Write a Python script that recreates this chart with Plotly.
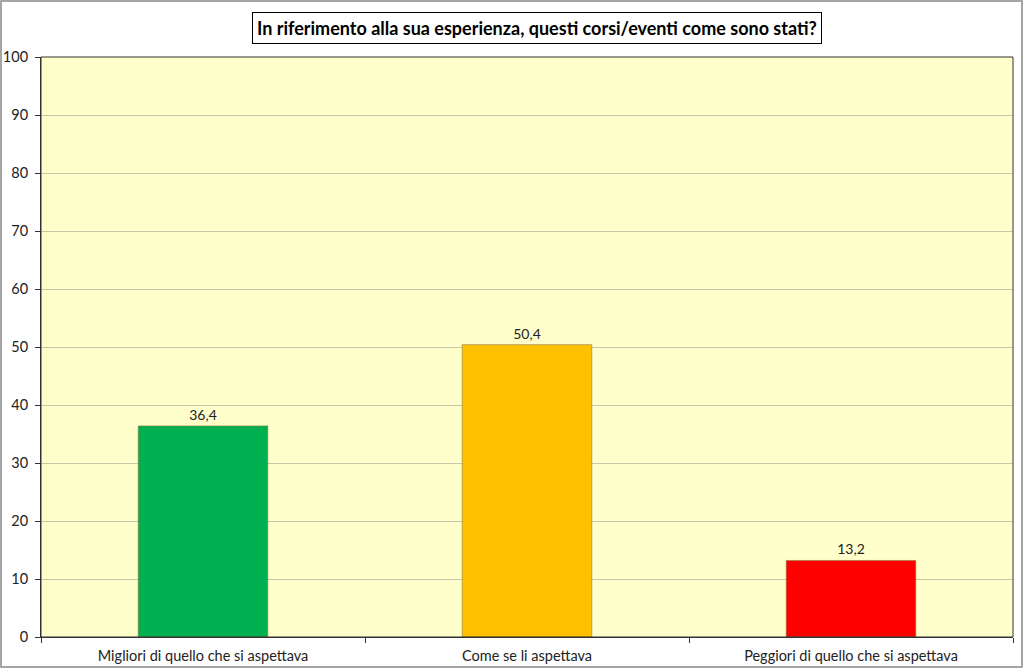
import plotly.graph_objects as go

categories = ["Migliori di quello che si aspettava", "Come se li aspettava", "Peggiori di quello che si aspettava"]
values = [36.4, 50.4, 13.2]
labels = ["36,4", "50,4", "13,2"]
colors = ["#00B050", "#FFC000", "#FF0000"]
title_text = "In riferimento alla sua esperienza, questi corsi/eventi come sono stati?"

W, H = 1024, 669
L, R, T, B = 41, 11, 57, 32
pw, ph = W - L - R, H - T - B
FONT = "Lato, Open Sans, sans-serif"

fig = go.Figure(go.Bar(
    x=categories, y=values, text=labels, textposition="outside",
    marker=dict(color=colors, line=dict(color="#8a7a3a", width=0.6)),
    textfont=dict(family=FONT, size=14, color="#222"),
    cliponaxis=False,
))

def px_x(p):
    return (p - L) / pw

def px_y(p):
    return 1 - (p - T) / ph

fig.update_layout(
    width=W, height=H,
    margin=dict(l=L, r=R, t=T, b=B, pad=0, autoexpand=False),
    paper_bgcolor="white",
    plot_bgcolor="#FFFFCC",
    bargap=0.6,
    showlegend=False,
    font=dict(family=FONT, size=14, color="#222"),
    xaxis=dict(
        showline=True, linecolor="#333", linewidth=1, mirror=False, automargin=False,
        ticks="outside", tickson="boundaries", ticklen=5, tickcolor="#333",
        showgrid=False, tickfont=dict(size=14.5), ticklabelstandoff=6,
    ),
    yaxis=dict(
        range=[0, 100], dtick=10, showline=True, linecolor="#333", linewidth=1, automargin=False,
        ticks="outside", ticklen=5, tickcolor="#333",
        gridcolor="#C8C8A8", gridwidth=1, zeroline=False,
        tickfont=dict(size=14.5), ticklabelstandoff=4,
    ),
    shapes=[
        dict(type="rect", xref="paper", yref="paper", x0=0, x1=1, y0=0, y1=1,
             line=dict(color="#333", width=1), fillcolor="rgba(0,0,0,0)", layer="above"),
        dict(type="rect", xref="paper", yref="paper",
             x0=px_x(1), x1=px_x(1022), y0=px_y(1), y1=px_y(667),
             line=dict(color="#888", width=1.5), fillcolor="rgba(0,0,0,0)"),
    ],
    annotations=[
        dict(text="<b>" + title_text + "</b>", xref="paper", yref="paper",
             x=px_x(537), y=px_y(28), xanchor="center", yanchor="middle", showarrow=False,
             font=dict(family=FONT, size=18, color="black"),
             bordercolor="black", borderwidth=1, bgcolor="white", borderpad=4),
    ],
)

fig.write_html("out.html")
